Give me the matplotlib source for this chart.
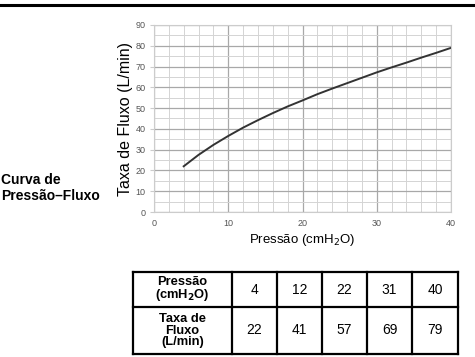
import matplotlib.pyplot as plt
from matplotlib.lines import Line2D

# values
pressure = [4, 6, 8, 10, 12, 14, 16, 18, 20, 22, 24, 26, 28, 30, 32, 34, 36, 38, 40]
flow = [22, 27.5, 32.3, 36.6, 40.6, 44.2, 47.6, 50.8, 53.7, 56.7, 59.4, 62.0, 64.6, 67.2, 69.6, 71.9, 74.3, 76.6, 79]

# table values
tab_pressure = ['4', '12', '22', '31', '40']
tab_flow = ['22', '41', '57', '69', '79']

W, H = 475, 357
fig = plt.figure(figsize=(W / 100, H / 100), dpi=100)
plt.rcParams['font.family'] = ['Liberation Sans', 'DejaVu Sans']


def fx(px):
    return px / W


def fy(py):
    return 1 - py / H


# top rule
fig.add_artist(Line2D([0, 1], [fy(5), fy(5)], color='black', lw=2.2, transform=fig.transFigure))

ax = fig.add_axes([fx(154), fy(212), fx(451) - fx(154), fy(25) - fy(212)])
ax.plot(pressure, flow, color='#333333', lw=1.4)
ax.set_xlim(0, 40)
ax.set_ylim(0, 90)
ax.set_xticks(range(0, 41, 10))
ax.set_yticks(range(0, 91, 10))
ax.set_xticks(range(0, 41, 2), minor=True)
ax.set_yticks(range(0, 91, 5), minor=True)
ax.grid(True, which='major', color='#a8a8a8', lw=0.9)
ax.grid(True, which='minor', color='#d4d4d4', lw=0.7)
ax.set_axisbelow(True)
for s in ax.spines.values():
    s.set_color('#cccccc')
    s.set_linewidth(0.8)
ax.tick_params(which='both', length=0, labelsize=6.5, labelcolor='#555555', pad=5)
ax.tick_params(axis='y', which='major', length=3, color='#cccccc', pad=3)
ax.set_xlabel('Pressão (cmH$_2$O)', fontsize=9.5, labelpad=3)
ax.set_ylabel('Taxa de Fluxo (L/min)', fontsize=11.5, labelpad=2)

fig.text(fx(1), fy(180), 'Curva de', fontsize=10, fontweight='bold', va='center')
fig.text(fx(1), fy(196), 'Pressão–Fluxo', fontsize=10, fontweight='bold', va='center')

# table
cols = [133, 232, 277, 322, 367, 412, 458]
rows = [272, 307, 354]
tax = fig.add_axes([0, 0, 1, 1])
tax.set_xlim(0, W)
tax.set_ylim(H, 0)
tax.axis('off')
for x in cols:
    tax.plot([x, x], [rows[0], rows[-1]], color='black', lw=1.6, solid_capstyle='projecting')
for y in rows:
    tax.plot([cols[0], cols[-1]], [y, y], color='black', lw=1.6, solid_capstyle='projecting')

heads = ['Pressão\n(cmH$_\\mathbf{2}$O)', 'Taxa de\nFluxo\n(L/min)']
for r, (head, vals) in enumerate(zip(heads, [tab_pressure, tab_flow])):
    yc = (rows[r] + rows[r + 1]) / 2
    tax.text((cols[0] + cols[1]) / 2, yc, head, ha='center', va='center',
             fontsize=9.3, fontweight='bold', linespacing=0.95)
    for i, v in enumerate(vals):
        tax.text((cols[i + 1] + cols[i + 2]) / 2, yc, v, ha='center', va='center', fontsize=10)

fig.savefig('out.png', dpi=100)
